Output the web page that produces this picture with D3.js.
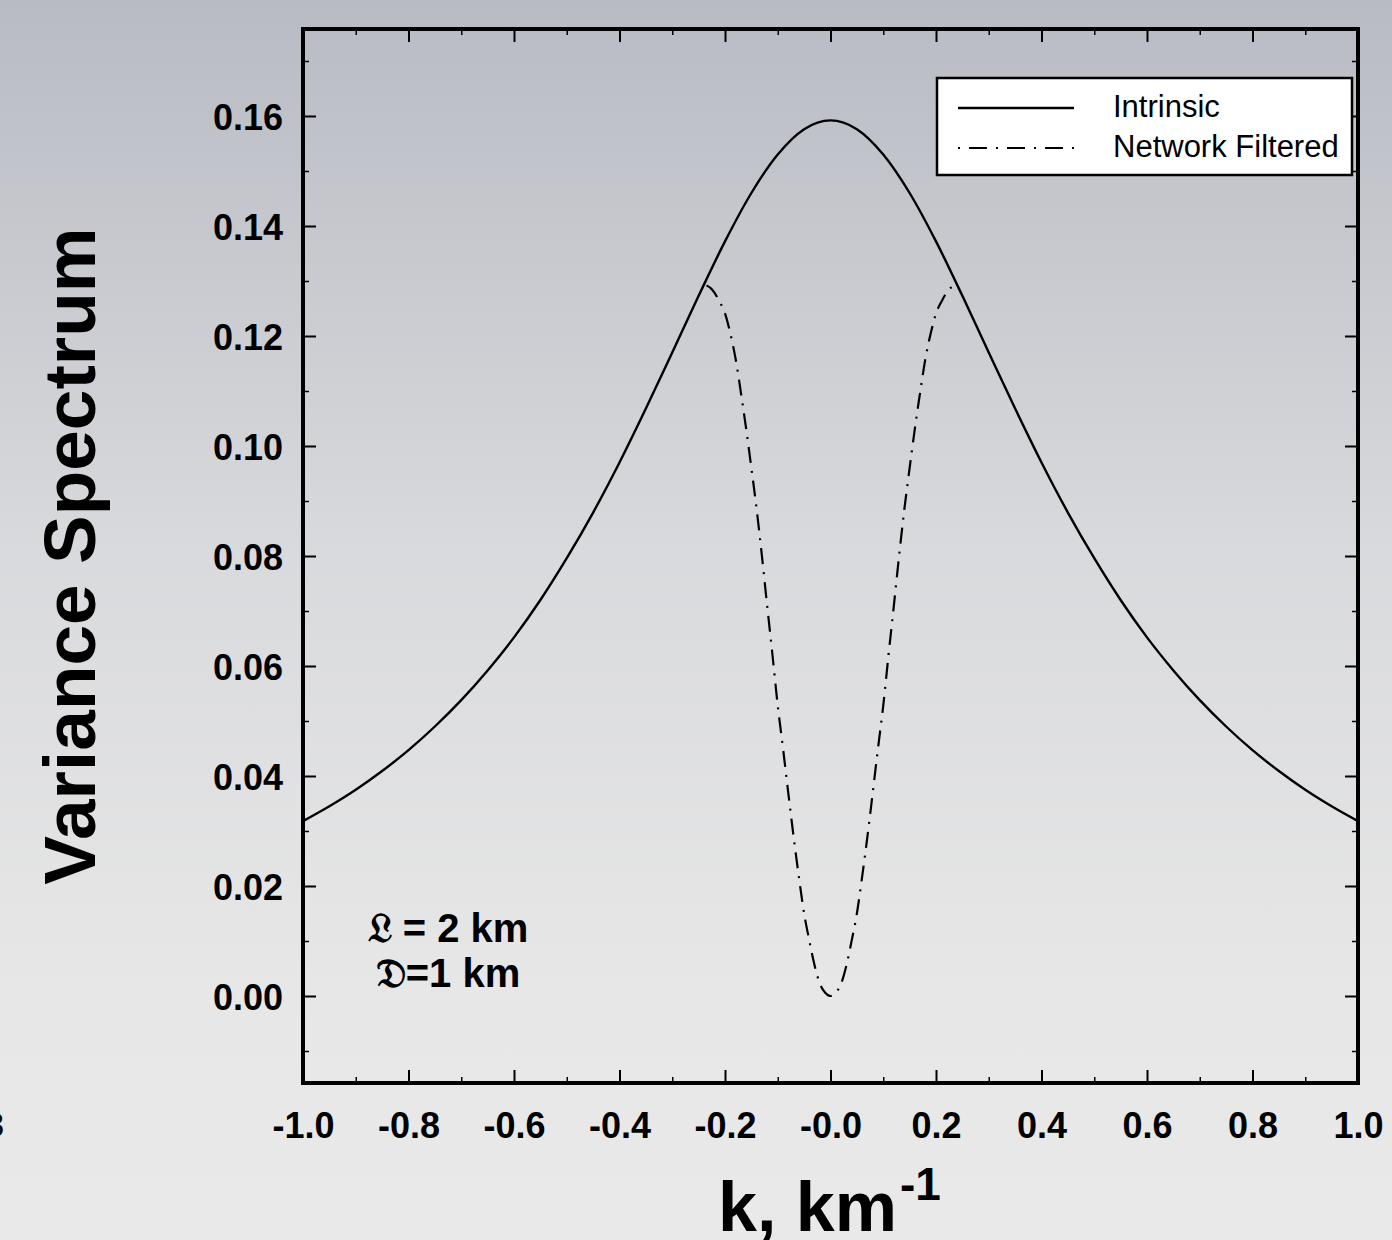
<!DOCTYPE html>
<html>
<head>
<meta charset="utf-8">
<script src="https://cdn.jsdelivr.net/npm/d3@7/dist/d3.min.js"></script>
<style>
  html, body { margin: 0; padding: 0; }
  body { width: 1392px; height: 1240px; overflow: hidden; }
  svg { display: block; }
</style>
</head>
<body>
<script>
// ---- Data ----
const kIntrinsic = [-1.00,-0.95,-0.90,-0.85,-0.80,-0.75,-0.70,-0.65,-0.60,-0.55,-0.50,-0.45,-0.40,-0.35,-0.30,-0.25,-0.20,-0.15,-0.10,-0.05,0.00,
                    0.05,0.10,0.15,0.20,0.25,0.30,0.35,0.40,0.45,0.50,0.55,0.60,0.65,0.70,0.75,0.80,0.85,0.90,0.95,1.00];
const intrinsic = [0.0318,0.0345,0.0375,0.0409,0.0447,0.0490,0.0538,0.0592,0.0652,0.0720,0.0796,0.0879,0.0970,0.1068,0.1170,0.1273,0.1372,0.1460,0.1530,0.1576,0.1592,
                   0.1576,0.1530,0.1460,0.1372,0.1273,0.1170,0.1068,0.0970,0.0879,0.0796,0.0720,0.0652,0.0592,0.0538,0.0490,0.0447,0.0409,0.0375,0.0345,0.0318];

const kFiltered = [-0.235,-0.225,-0.21,-0.20,-0.19,-0.18,-0.17,-0.16,-0.15,-0.14,-0.13,-0.12,-0.11,-0.10,-0.09,-0.08,-0.07,-0.06,-0.05,-0.04,-0.03,-0.02,-0.01,0.00,
                   0.01,0.02,0.03,0.04,0.05,0.06,0.07,0.08,0.09,0.10,0.11,0.12,0.13,0.14,0.15,0.16,0.17,0.18,0.19,0.20,0.21,0.225,0.235];
const filtered = [0.1292,0.1285,0.1262,0.1241,0.1205,0.1159,0.1098,0.1032,0.0960,0.0885,0.0800,0.0709,0.0620,0.0528,0.0450,0.0369,0.0290,0.0217,0.0150,0.0100,0.0055,0.0022,0.0006,0.0000,
                  0.0006,0.0022,0.0055,0.0100,0.0150,0.0217,0.0290,0.0369,0.0450,0.0528,0.0620,0.0709,0.0800,0.0885,0.0960,0.1032,0.1098,0.1159,0.1205,0.1241,0.1262,0.1285,0.1292];

const xTickValues = [-1.0,-0.8,-0.6,-0.4,-0.2,0.0,0.2,0.4,0.6,0.8,1.0];
const xTickLabels = ["-1.0","-0.8","-0.6","-0.4","-0.2","-0.0","0.2","0.4","0.6","0.8","1.0"];
const xMinorTicks = [-0.9,-0.7,-0.5,-0.3,-0.1,0.1,0.3,0.5,0.7,0.9];
const yTickValues = [0.00,0.02,0.04,0.06,0.08,0.10,0.12,0.14,0.16];
const yTickLabels = ["0.00","0.02","0.04","0.06","0.08","0.10","0.12","0.14","0.16"];
const yMinorTicks = [-0.01,0.01,0.03,0.05,0.07,0.09,0.11,0.13,0.15,0.17];

const seriesNames = ["Intrinsic","Network Filtered"];
const annotationSymbols = ["\u{1D50F}","\u{1D507}"];
const annotationRest = [" = 2 km","=1 km"];

// ---- Layout ----
const W = 1392, H = 1240;
const pL = 303, pR = 1358, pT = 29, pB = 1083;
const FONT = "'Liberation Sans', Arial, Helvetica, sans-serif";

const svg = d3.select("body").append("svg").attr("width", W).attr("height", H);

const defs = svg.append("defs");
const grad = defs.append("linearGradient").attr("id","bg").attr("x1",0).attr("y1",0).attr("x2",0).attr("y2",1);
grad.append("stop").attr("offset","0%").attr("stop-color","#b8bbc3");
grad.append("stop").attr("offset","45%").attr("stop-color","#d9dadd");
grad.append("stop").attr("offset","80%").attr("stop-color","#e7e7e7");
grad.append("stop").attr("offset","100%").attr("stop-color","#e9e9e9");
svg.append("rect").attr("width",W).attr("height",H).attr("fill","url(#bg)");

const x = d3.scaleLinear().domain([-1,1]).range([pL,pR]);
const y = d3.scaleLinear().domain([-87/5500, 967/5500]).range([pB, pT]);

defs.append("clipPath").attr("id","clip").append("rect")
  .attr("x",pL).attr("y",pT).attr("width",pR-pL).attr("height",pB-pT);

// ---- Axes (ticks inward, all four sides) ----
function styleAxis(g, w) {
  g.select(".domain").remove();
  g.selectAll(".tick line").attr("stroke","#000").attr("stroke-width",w);
}
const labX = d3.scaleOrdinal().domain(xTickValues).range(xTickLabels);
const labY = d3.scaleOrdinal().domain(yTickValues).range(yTickLabels);

const gB = svg.append("g").attr("transform",`translate(0,${pB})`)
  .call(d3.axisBottom(x).tickValues(xTickValues).tickSize(-13).tickPadding(29).tickFormat(d => labX(d)));
styleAxis(gB, 2);
gB.selectAll("text").attr("font-family",FONT).attr("font-weight","bold").attr("font-size",36).attr("fill","#000");
svg.append("g").attr("transform",`translate(0,${pB})`)
  .call(d3.axisBottom(x).tickValues(xMinorTicks).tickSize(-6).tickFormat("")).call(g => styleAxis(g,1.5));

const gT = svg.append("g").attr("transform",`translate(0,${pT})`)
  .call(d3.axisTop(x).tickValues(xTickValues).tickSize(-13).tickFormat(""));
styleAxis(gT, 2);
svg.append("g").attr("transform",`translate(0,${pT})`)
  .call(d3.axisTop(x).tickValues(xMinorTicks).tickSize(-6).tickFormat("")).call(g => styleAxis(g,1.5));

const gL = svg.append("g").attr("transform",`translate(${pL},0)`)
  .call(d3.axisLeft(y).tickValues(yTickValues).tickSize(-13).tickPadding(20).tickFormat(d => labY(d)));
styleAxis(gL, 2);
gL.selectAll("text").attr("font-family",FONT).attr("font-weight","bold").attr("font-size",36).attr("fill","#000").attr("dy","0.38em");
svg.append("g").attr("transform",`translate(${pL},0)`)
  .call(d3.axisLeft(y).tickValues(yMinorTicks).tickSize(-6).tickFormat("")).call(g => styleAxis(g,1.5));

svg.append("g").attr("transform",`translate(${pR},0)`)
  .call(d3.axisRight(y).tickValues(yTickValues).tickSize(-13).tickFormat("")).call(g => styleAxis(g,2));
svg.append("g").attr("transform",`translate(${pR},0)`)
  .call(d3.axisRight(y).tickValues(yMinorTicks).tickSize(-6).tickFormat("")).call(g => styleAxis(g,1.5));

// ---- Curves ----
const line = d3.line().x(d => x(d[0])).y(d => y(d[1])).curve(d3.curveMonotoneX);
const plot = svg.append("g").attr("clip-path","url(#clip)");
plot.append("path").datum(kIntrinsic.map((k,i) => [k, intrinsic[i]]))
  .attr("d", line).attr("fill","none").attr("stroke","#000").attr("stroke-width",2.4);
plot.append("path").datum(kFiltered.map((k,i) => [k, filtered[i]]))
  .attr("d", line).attr("fill","none").attr("stroke","#000").attr("stroke-width",2.2)
  .attr("stroke-dasharray","16,8,2,8");

// ---- Frame ----
svg.append("rect").attr("x",pL).attr("y",pT).attr("width",pR-pL).attr("height",pB-pT)
  .attr("fill","none").attr("stroke","#000").attr("stroke-width",4);

// ---- Legend ----
const lg = svg.append("g");
lg.append("rect").attr("x",937).attr("y",78).attr("width",415).attr("height",97)
  .attr("fill","#fff").attr("stroke","#000").attr("stroke-width",2.5);
const legendDash = [null, "18,9,2,9"];
const legendOffset = [0, 27];
const legendY = [108, 148];
seriesNames.forEach((name, i) => {
  lg.append("line").attr("x1",958).attr("x2",1074).attr("y1",legendY[i]).attr("y2",legendY[i])
    .attr("stroke","#000").attr("stroke-width", i === 0 ? 2.4 : 2.2)
    .attr("stroke-dasharray", legendDash[i]).attr("stroke-dashoffset", legendOffset[i]);
  lg.append("text").attr("x",1113).attr("y",legendY[i] + 9).text(name)
    .attr("font-family",FONT).attr("font-size",31).attr("fill","#000");
});

// ---- Annotation ----
const ann = svg.append("g");
annotationSymbols.forEach((s, i) => {
  const t = ann.append("text").attr("x",448).attr("y",[942,987][i]).attr("text-anchor","middle")
    .attr("font-family",FONT).attr("font-weight","bold").attr("fill","#000");
  t.append("tspan").attr("font-size",41)
    .attr("font-family","'DejaVu Serif', 'DejaVu Sans', 'Noto Sans', serif").text(s);
  t.append("tspan").attr("font-size",40).text(annotationRest[i]);
});

// ---- Axis titles ----
svg.append("text").attr("transform","translate(95,556) rotate(-90)").attr("text-anchor","middle")
  .text("Variance Spectrum").attr("font-family",FONT).attr("font-weight","bold").attr("font-size",73).attr("fill","#000");

const xt = svg.append("text").attr("x",718).attr("y",1231)
  .attr("font-family",FONT).attr("font-weight","bold").attr("fill","#000");
xt.append("tspan").attr("font-size",70).text("k, km");
xt.append("tspan").attr("font-size",46).attr("dy",-31).attr("dx",3).text("-1");

// partially visible character at the left edge (as in the reference)
svg.append("text").attr("x",4).attr("y",1137).attr("text-anchor","end").text("3")
  .attr("font-family",FONT).attr("font-weight","bold").attr("font-size",35).attr("fill","#000");
</script>
</body>
</html>
